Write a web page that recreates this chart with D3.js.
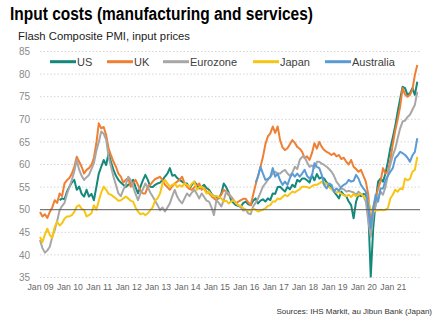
<!DOCTYPE html>
<html><head><meta charset="utf-8">
<script src="https://cdn.jsdelivr.net/npm/d3@7"></script>
<style>body{margin:0;background:#fff}svg{display:block;font-family:"Liberation Sans",Arial,sans-serif}</style>
</head><body><svg id="chart" width="442" height="325"></svg>
<script>
// ---- data (monthly, Jan 2009 = month 0) ----
const xTickLabels = ["Jan 09","Jan 10","Jan 11","Jan 12","Jan 13","Jan 14","Jan 15","Jan 16","Jan 17","Jan 18","Jan 19","Jan 20","Jan 21"];
const yTicks = [35,40,45,50,55,60,65,70,75,80,85];
const seriesNames = ["US","UK","Eurozone","Japan","Australia"];
const seriesStartMonth = [8,0,0,0,88];
const usValues = [
 52.1,52.5,52.3,54.0,
 55.1,56.0,56.6,54.4,55.1,53.5,52.9,54.4,52.9,53.5,52.1,55.0,
 58.0,59.5,61.0,59.9,62.5,60.5,58.8,57.5,56.6,56.0,55.5,55.0,
 55.5,55.8,56.6,55.0,53.6,55.1,56.5,57.7,56.6,55.1,55.0,55.5,
 55.8,56.0,56.6,57.3,58.0,59.2,57.5,57.7,57.0,56.6,56.2,55.8,
 55.8,54.7,55.5,56.2,55.5,54.7,55.0,55.5,54.8,54.4,53.5,52.9,
 52.9,52.5,53.6,55.8,55.0,53.8,52.1,51.5,51.0,50.8,50.7,51.5,
 51.8,51.2,51.0,52.0,52.5,51.4,52.0,52.3,51.8,52.5,52.1,53.6,
 53.5,55.0,55.1,54.5,54.0,55.0,54.5,55.5,55.0,56.6,56.2,56.9,
 56.9,56.5,56.0,57.7,56.5,57.9,56.9,57.2,56.9,56.0,55.5,54.7,
 54.0,53.3,52.5,54.0,53.3,53.0,51.8,51.0,48.1,51.8,53.3,53.0,
 53.5,53.3,49.6,35.2,45.9,51.8,56.2,56.9,56.2,58.0,60.6,63.6,
 66.0,68.5,71.7,74.5,77.2,76.9,75.4,75.8,76.9,75.4,78.3];
const ukValues = [
 49.5,48.5,49.0,48.2,49.5,50.5,52.1,51.5,53.6,53.0,55.8,56.5,
 57.0,58.0,59.5,61.7,60.6,59.5,58.0,58.8,59.2,59.9,61.5,64.7,
 69.1,68.0,68.3,66.5,63.6,62.0,60.6,59.5,58.0,57.3,56.0,56.6,
 57.0,55.1,55.8,56.6,55.5,54.2,53.6,53.6,55.1,55.5,56.2,56.8,
 57.0,57.3,56.5,55.5,55.0,54.4,55.2,55.8,56.2,56.6,57.3,55.8,
 55.1,54.6,54.4,55.0,55.4,55.8,54.4,54.8,54.0,53.6,53.0,52.5,
 52.1,52.8,53.3,54.4,54.0,53.2,52.9,52.2,51.4,51.8,52.1,52.4,
 52.4,51.6,51.0,53.3,55.5,57.5,59.5,61.7,64.5,66.2,66.9,68.4,
 67.0,68.4,65.4,63.8,63.2,63.6,64.5,65.4,64.8,63.9,63.5,62.8,
 61.4,61.8,61.0,62.5,64.7,63.5,65.0,63.9,63.2,62.8,62.5,62.1,
 62.5,61.8,62.1,61.2,61.5,60.6,60.0,61.0,59.5,59.0,58.4,58.8,
 57.5,56.2,53.3,46.5,50.5,52.5,54.7,56.2,59.2,58.0,58.4,61.0,
 64.5,67.5,70.0,72.8,76.9,75.5,75.0,75.4,76.5,79.8,82.0];
const eurozoneValues = [
 43.3,41.5,40.5,41.0,41.8,44.0,45.5,47.5,49.9,50.8,51.5,53.5,
 55.0,56.6,58.5,61.0,58.8,57.5,56.6,57.2,57.7,59.0,60.3,63.0,
 65.0,67.3,66.8,65.5,61.7,59.5,57.3,55.5,53.6,53.0,54.4,55.5,
 57.3,56.6,55.1,53.5,52.1,53.6,54.5,55.8,55.0,53.8,52.9,52.0,
 51.0,49.9,50.5,49.6,50.5,51.4,53.0,54.4,52.9,52.0,51.4,52.5,
 53.6,53.0,53.8,54.4,53.5,52.5,53.6,52.8,52.0,51.8,50.5,48.8,
 52.1,51.5,50.7,52.1,54.0,53.6,52.8,52.0,51.4,51.0,50.5,49.8,
 50.0,49.2,49.0,50.7,51.5,52.5,53.8,55.1,55.8,56.6,57.3,58.0,
 58.4,58.0,58.0,58.5,58.8,58.0,57.5,58.2,59.5,59.0,61.0,61.7,
 61.7,60.5,59.5,59.8,59.2,60.6,60.6,60.2,59.9,59.5,59.0,58.4,
 57.5,56.2,55.5,54.7,54.5,54.0,54.2,54.0,53.8,53.3,54.0,53.5,
 53.0,51.8,47.5,44.0,48.8,51.0,52.5,54.0,53.3,55.0,57.7,60.0,
 62.0,63.5,65.8,68.0,69.5,69.7,70.5,71.0,72.1,73.2,76.1];
const japanValues = [
 44.0,42.8,44.5,45.8,44.4,43.8,46.2,47.3,46.5,47.0,48.0,48.5,
 48.5,48.8,49.5,50.7,51.0,50.2,49.9,48.5,48.8,49.2,51.0,50.0,
 52.0,53.8,55.1,54.4,53.5,53.3,52.9,52.5,52.0,52.1,52.5,52.9,
 52.5,52.0,51.8,50.5,49.6,49.0,49.2,48.8,49.2,49.9,50.5,52.1,
 52.5,53.6,55.8,56.6,55.8,55.1,55.5,55.8,55.0,55.4,55.1,55.8,
 55.5,55.0,55.8,56.2,54.4,55.0,55.1,54.5,53.6,54.0,53.3,52.9,
 53.0,52.8,52.5,51.8,52.0,51.4,51.8,52.1,51.5,51.0,50.8,50.3,
 50.0,49.9,49.8,50.2,50.0,49.6,49.8,50.0,50.3,50.8,51.0,51.8,
 51.8,52.5,52.3,52.8,53.3,53.0,53.5,54.0,53.8,54.2,54.5,55.1,
 55.1,55.0,54.8,55.2,55.5,55.5,55.8,56.2,55.5,55.8,55.0,54.5,
 54.2,53.8,54.0,53.5,53.2,53.0,53.3,52.8,53.5,53.0,53.3,53.5,
 53.0,52.5,51.8,50.0,49.6,49.8,49.9,50.0,49.9,50.0,50.3,52.5,
 53.3,54.4,54.0,54.7,54.5,56.9,56.5,56.8,58.4,58.8,61.7];
const australiaValues = [
 56.0,57.3,59.5,58.0,56.6,56.8,57.2,59.2,
 57.3,58.0,56.5,55.5,56.2,55.5,57.0,58.0,57.3,58.0,57.3,58.0,
 58.8,57.5,56.9,57.5,60.3,59.5,59.2,57.7,55.5,54.7,55.8,55.5,
 54.0,54.7,54.2,55.0,55.5,55.8,56.6,56.2,56.4,57.7,56.9,55.5,
 54.7,54.0,51.0,45.9,50.3,53.3,51.8,54.7,54.7,56.5,57.5,58.4,
 59.2,61.4,62.0,62.8,62.5,62.1,61.5,60.6,62.0,62.8,65.8];
const seriesValues = [usValues, ukValues, eurozoneValues, japanValues, australiaValues];

// ---- styles ----
const colors = ["#13887b","#ef7f33","#a7a7a7","#f7c514","#5b9bd5"];
const svg = d3.select("#chart");
const lastMonth = d3.max(seriesValues, (v,i) => seriesStartMonth[i] + v.length - 1);
const x = d3.scaleLinear().domain([0, lastMonth]).range([40, 417.3]);
const y = d3.scaleLinear().domain([35, 85]).range([277.5, 51.5]);

// title
svg.append("text").attr("x",10).attr("y",19.5).attr("font-size",17.5).attr("font-weight","bold")
  .attr("fill","#000").attr("textLength",303).attr("lengthAdjust","spacingAndGlyphs")
  .text("Input costs (manufacturing and services)");
svg.append("text").attr("x",18).attr("y",39.5).attr("font-size",11.2).attr("fill","#222")
  .attr("textLength",172).attr("lengthAdjust","spacingAndGlyphs")
  .text("Flash Composite PMI, input prices");

// grid
const yAxis = d3.axisLeft(y).tickValues(yTicks).tickSize(0).tickPadding(0);
const gy = svg.append("g").attr("transform","translate(30,0)").call(yAxis);
gy.select(".domain").remove();
gy.selectAll("text").attr("font-size",10).attr("fill","#8a8a8a").attr("font-family","Liberation Sans, Arial, sans-serif");
svg.append("g").selectAll("line").data(yTicks.filter(t => t !== 50)).join("line")
  .attr("x1",40).attr("x2",420).attr("y1",d=>y(d)).attr("y2",d=>y(d))
  .attr("stroke","#d4d4d4").attr("stroke-width",1).attr("stroke-dasharray","1.5,2");

// x axis labels
const xTickValues = xTickLabels.map((_,i) => i*12);
const xAxis = d3.axisBottom(x).tickValues(xTickValues).tickFormat((d,i)=>xTickLabels[i]).tickSize(0).tickPadding(0);
const gx = svg.append("g").attr("transform","translate(0,283)").call(xAxis);
gx.select(".domain").remove();
gx.selectAll("text").attr("font-size",9.5).attr("fill","#666").attr("font-family","Liberation Sans, Arial, sans-serif")
  .attr("textLength",26).attr("lengthAdjust","spacingAndGlyphs");

// lines
const line = d3.line().defined(d => d.v != null).x(d => x(d.m)).y(d => y(d.v));
seriesValues.forEach((vals, i) => {
  const pts = vals.map((v,j) => ({m: seriesStartMonth[i] + j, v}));
  svg.append("path").datum(pts).attr("d", line).attr("fill","none")
    .attr("stroke", colors[i]).attr("stroke-width", 2).attr("stroke-linejoin","round");
});

// 50 line
svg.append("line").attr("x1",40).attr("x2",420).attr("y1",y(50)).attr("y2",y(50))
  .attr("stroke","#5a5a5a").attr("stroke-width",1);

// legend
const legendX = [50,107,163,253,325];
const lg = svg.append("g").selectAll("g").data(seriesNames).join("g")
  .attr("transform",(d,i)=>`translate(${legendX[i]},61.7)`);
lg.append("line").attr("x1",0).attr("x2",26).attr("stroke",(d,i)=>colors[i]).attr("stroke-width",3);
lg.append("text").attr("x",27).attr("y",4).attr("font-size",11).attr("fill","#404040").text(d=>d);

// source
svg.append("text").attr("x",432).attr("y",314).attr("text-anchor","end").attr("font-size",8)
  .attr("fill","#333")
  .text("Sources: IHS Markit, au Jibun Bank (Japan)");
</script></body></html>
